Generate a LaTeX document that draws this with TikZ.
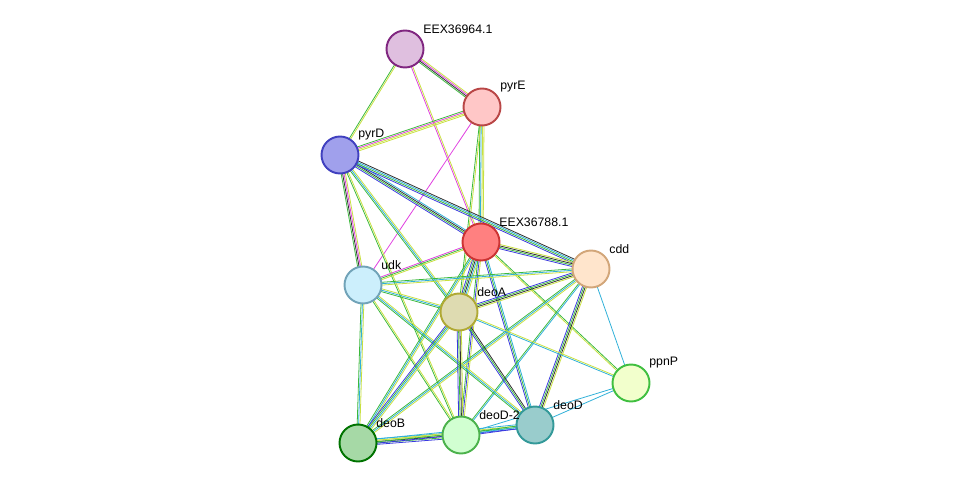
\documentclass[tikz,border=0pt]{standalone}
\usepackage{fontspec}
\setmainfont{Liberation Sans}
\usetikzlibrary{calc,backgrounds}
\definecolor{lgreen}{HTML}{3CB93C}
\definecolor{lblack}{HTML}{303030}
\definecolor{lmag}{HTML}{E040E0}
\definecolor{lyel}{HTML}{C8E040}
\definecolor{lblue}{HTML}{3A3AE0}
\definecolor{lcyan}{HTML}{30B0D8}
\tikzset{
  prot/.style={circle, minimum size=0.74cm, line width=1.1pt, inner sep=0pt},
  lbl/.style={anchor=south west, inner sep=0pt, font=\fontsize{7}{8}\selectfont},
  link/.style={line width=0.45pt}
}
\newcommand{\link}[3]{%
  \foreach \c [count=\k] in {#3}{\xdef\nlink{\k}}%
  \foreach \c [count=\k] in {#3}{%
    \pgfmathsetmacro\off{(\k-(\nlink+1)/2)*0.8}%
    \draw[link,\c] ($(#1)!\off pt!90:(#2)$) -- ($(#2)!\off pt!-90:(#1)$);}}

\begin{document}
\begin{tikzpicture}[x=0.02cm,y=-0.02cm]
\useasboundingbox (0,0) rectangle (976,489);

%% NODES
\node (eex64) [prot, draw=violet!70!gray, fill=violet!25] at (405,49) {};
\node (pyrE) [prot, draw=red!45!gray, fill=red!22] at (482,107) {};
\node (pyrD) [prot, draw=blue!50!gray, fill=blue!35!white!85!gray] at (340,155) {};
\node (eex88) [prot, draw=red!60!gray, fill=red!50] at (481,242) {};
\node (cdd) [prot, draw=brown!70, fill=orange!20] at (591,269) {};
\node (udk) [prot, draw=cyan!40!gray, fill=cyan!20] at (363,285) {};
\node (deoA) [prot, draw=olive!70, fill=yellow!40!gray!50] at (459,312) {};
\node (ppnP) [prot, draw=green!50!gray, fill=lime!20] at (631,383) {};
\node (deoD) [prot, draw=teal!80, fill=teal!40] at (535,425) {};
\node (deoD2) [prot, draw=green!40!gray, fill=green!18] at (461,435) {};
\node (deoB) [prot, draw=green!45!black, fill=green!40!gray!50] at (358,443) {};

\foreach \n/\t in {eex64/EEX36964.1, pyrE/pyrE, pyrD/pyrD, eex88/EEX36788.1, cdd/cdd, udk/udk,
  deoA/deoA, ppnP/ppnP, deoD/deoD, deoD2/deoD-2, deoB/deoB}
  \node (\n-l) [lbl] at ($(\n)+(18,-15)$) {\t};

%% LINKS
\begin{pgfonlayer}{background}
\link{eex64}{pyrE}{lgreen,lblack,lmag,lyel}
\link{eex64}{pyrD}{lgreen,lyel}
\link{eex64}{eex88}{lmag,lyel}
\link{pyrE}{pyrD}{lgreen,lmag,lyel,lyel}
\link{pyrE}{eex88}{lgreen,lcyan,lyel,lyel}
\link{pyrE}{udk}{lmag}
\link{pyrE}{deoA}{lgreen,lyel}
\link{pyrD}{eex88}{lblue,lgreen,lblack,lcyan}
\link{pyrD}{cdd}{lblue,lgreen,lcyan,lblack}
\link{pyrD}{udk}{lgreen,lblack,lmag,lyel}
\link{pyrD}{deoA}{lgreen,lcyan,lyel}
\link{pyrD}{deoD2}{lgreen,lyel}
\link{eex88}{cdd}{lblue,lgreen,lblack,lyel}
\link{eex88}{udk}{lmag,lgreen,lyel}
\link{eex88}{deoA}{lblue,lgreen,lblack,lcyan,lyel}
\link{eex88}{deoB}{lgreen,lcyan,lyel}
\link{eex88}{deoD2}{lgreen,lblue,lyel}
\link{eex88}{deoD}{lblue,lgreen,lcyan}
\link{eex88}{ppnP}{lyel,lgreen}
\link{cdd}{udk}{lgreen,lcyan,lyel}
\link{cdd}{deoA}{lblue,lgreen,lblack,lyel}
\link{cdd}{deoB}{lgreen,lcyan,lyel}
\link{cdd}{deoD2}{lgreen,lcyan}
\link{cdd}{deoD}{lblue,lgreen,lblack,lyel}
\link{cdd}{ppnP}{lcyan}
\link{udk}{deoA}{lgreen,lcyan,lyel}
\link{udk}{deoB}{lgreen,lcyan,lyel}
\link{udk}{deoD2}{lgreen,lyel}
\link{udk}{deoD}{lgreen,lcyan,lyel}
\link{deoA}{deoB}{lblue,lgreen,lcyan,lyel}
\link{deoA}{deoD2}{lblue,lgreen,lblack,lyel}
\link{deoA}{deoD}{lblue,lgreen,lblack}
\link{deoA}{ppnP}{lcyan,lyel}
\link{ppnP}{deoD}{lcyan}
\link{ppnP}{deoD2}{lcyan}
\link{deoB}{deoD2}{lblue,lgreen,lblack,lyel,lcyan}
\link{deoB}{deoD}{lblue,lgreen,lyel,lcyan}
\link{deoD2}{deoD}{lblue,lcyan,lgreen}
\end{pgfonlayer}

\end{tikzpicture}
\end{document}
